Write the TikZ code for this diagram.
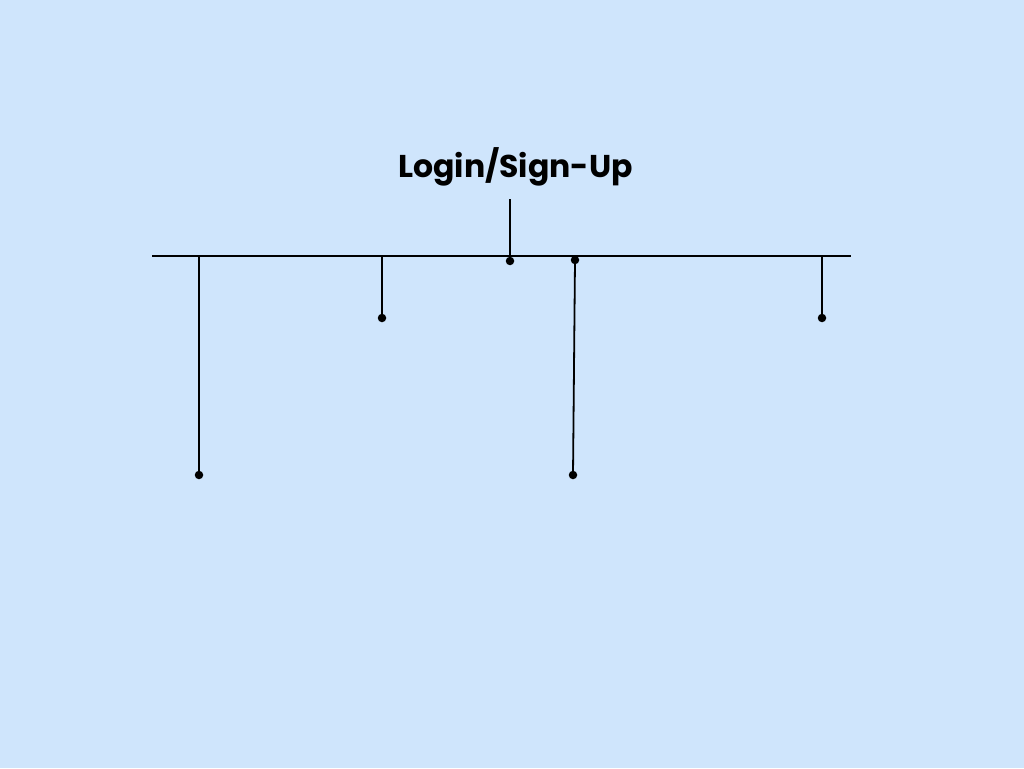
\documentclass[tikz,border=0pt]{standalone}
\usepackage{fontspec}
\setmainfont{Poppins}
\definecolor{bgblue}{HTML}{CFE5FC}
\begin{document}
\begin{tikzpicture}[x=1pt,y=-1pt, line width=1.8pt,
				   dot/.style={circle,fill=black,inner sep=0pt,minimum size=8.5pt},
				   title/.style={font=\bfseries\fontsize{31.5}{36}\selectfont}]
\fill[bgblue] (0,0) rectangle (1024,768);
\node[title] (login) at (515.5,167) {Login/Sign-Up};
\coordinate (top) at (510,199);
\coordinate (barL) at (152,256);
\coordinate (barR) at (851,256);
\draw (barL) -- (barR);
\node[dot] (hub) at (510,261) {};
\draw (top) -- (510,256);
% drops
\coordinate (a0) at (199,256);
\node[dot] (a) at (199,475) {};
\coordinate (b0) at (382,256);
\node[dot] (b) at (382,318) {};
\node[dot] (c0) at (575,260) {};
\node[dot] (c) at (573,475) {};
\coordinate (d0) at (822,256);
\node[dot] (d) at (822,318) {};
\draw (a0) -- (a.center);
\draw (b0) -- (b.center);
\draw (c0.center) -- (c.center);
\draw (d0) -- (d.center);
\end{tikzpicture}
\end{document}
